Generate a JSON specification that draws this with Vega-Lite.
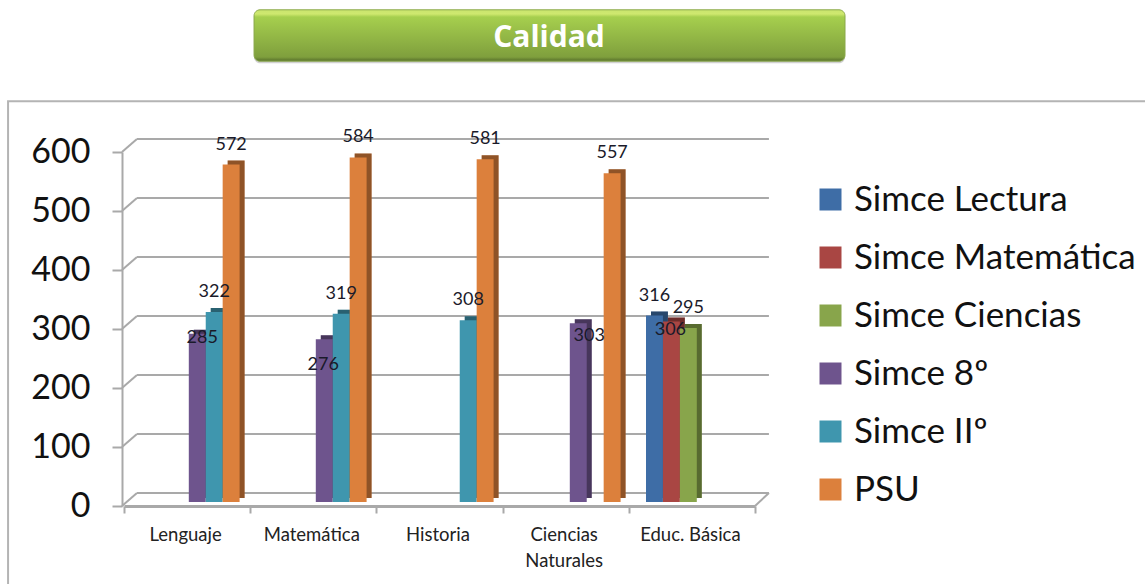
{"$schema":"https://vega.github.io/schema/vega-lite/v6.json","width":633,"height":354,"autosize":"none","padding":{"left":122,"top":152,"right":390,"bottom":78},"background":"white","config":{"view":{"stroke":null},"font":"Lato"},"datasets":{"scores":[
{"area":"Lenguaje","serie":"Simce 8º","puntaje":285},{"area":"Lenguaje","serie":"Simce IIº","puntaje":322},{"area":"Lenguaje","serie":"PSU","puntaje":572},
{"area":"Matemática","serie":"Simce 8º","puntaje":276},{"area":"Matemática","serie":"Simce IIº","puntaje":319},{"area":"Matemática","serie":"PSU","puntaje":584},
{"area":"Historia","serie":"Simce IIº","puntaje":308},{"area":"Historia","serie":"PSU","puntaje":581},
{"area":"Ciencias Naturales","serie":"Simce 8º","puntaje":303},{"area":"Ciencias Naturales","serie":"PSU","puntaje":557},
{"area":"Educ. Básica","serie":"Simce  Lectura","puntaje":316},{"area":"Educ. Básica","serie":"Simce Matemática","puntaje":306},{"area":"Educ. Básica","serie":"Simce Ciencias","puntaje":295}],
"levels":[{"level":0},{"level":100},{"level":200},{"level":300},{"level":400},{"level":500},{"level":600}],
"areas":[{"area":"Lenguaje"},{"area":"Matemática"},{"area":"Historia"},{"area":"Ciencias Naturales"},{"area":"Educ. Básica"}],
"banner":[{"titulo":"Calidad"}]},
"resolve":{"scale":{"x":"independent"}},
"layer":[
{"data":{"name":"levels"},"mark":{"type":"rule","color":"#a9a9a9","strokeWidth":2,"yOffset":-13},"encoding":{"x":{"datum":0.118,"type":"quantitative","scale":{"domain":[0,5]},"axis":null},"x2":{"datum":5.11},"y":{"field":"level","type":"quantitative","scale":{"domain":[0,600],"nice":false},"title":null,"axis":{"values":[0,100,200,300,400,500,600],"grid":false,"title":null,"tickSize":10,"tickColor":"#a9a9a9","tickWidth":2,"domainColor":"#a9a9a9","domainWidth":2,"labelFontSize":34,"labelColor":"#111111","labelPadding":22,"labelFont":"Lato"}}}},
{"data":{"name":"banner"},"mark":{"type":"rect","fill":"transparent","stroke":"#b4b4b4","strokeWidth":2},"encoding":{"x":{"datum":-0.9,"type":"quantitative","scale":{"domain":[0,5]},"axis":null},"x2":{"datum":8.12},"y":{"datum":686,"type":"quantitative"},"y2":{"datum":-142}}},
{"data":{"name":"banner"},"mark":{"type":"rect","fill":"#999999","opacity":0.45,"cornerRadius":6,"yOffset":2,"y2Offset":2},"encoding":{"x":{"datum":1.043,"type":"quantitative","scale":{"domain":[0,5]},"axis":null},"x2":{"datum":5.711},"y":{"datum":841,"type":"quantitative"},"y2":{"datum":754}}},
{"data":{"name":"banner"},"mark":{"type":"rect","cornerRadius":6,"stroke":"#8aa84a","strokeWidth":1,"fill":{"gradient":"linear","x1":0,"y1":0,"x2":0,"y2":1,"stops":[{"offset":0,"color":"#c9e56e"},{"offset":0.08,"color":"#cfe86f"},{"offset":0.14,"color":"#a6cf4e"},{"offset":0.92,"color":"#7f9f3d"},{"offset":1,"color":"#566f2a"}]}},"encoding":{"x":{"datum":1.043,"type":"quantitative","scale":{"domain":[0,5]},"axis":null},"x2":{"datum":5.711},"y":{"datum":841,"type":"quantitative"},"y2":{"datum":754}}},
{"data":{"name":"banner"},"mark":{"type":"text","font":"Open Sans","fontWeight":"bold","fontSize":30,"color":"white","align":"center","baseline":"middle"},"encoding":{"text":{"field":"titulo"},"x":{"datum":3.373,"type":"quantitative","scale":{"domain":[0,5]},"axis":null},"y":{"datum":793,"type":"quantitative"}}},
{"data":{"name":"levels"},"mark":{"type":"rule","color":"#a9a9a9","strokeWidth":2,"y2Offset":-13},"encoding":{"x":{"datum":0,"type":"quantitative","scale":{"domain":[0,5]},"axis":null},"x2":{"datum":0.118},"y":{"field":"level","type":"quantitative"},"y2":{"field":"level"}}},
{"data":{"name":"banner"},"mark":{"type":"rule","color":"#a9a9a9","strokeWidth":2,"y2Offset":-13},"encoding":{"x":{"datum":5,"type":"quantitative","scale":{"domain":[0,5]},"axis":null},"x2":{"datum":5.11},"y":{"datum":0,"type":"quantitative"},"y2":{"datum":0}}},
{"data":{"name":"areas"},"mark":{"type":"rule","opacity":0},"encoding":{"x":{"field":"area","type":"nominal","sort":null,"scale":{"range":[2,633],"paddingInner":0,"paddingOuter":0},"axis":{"title":null,"labelAngle":0,"tickBand":"extent","tickSize":7,"tickColor":"#a9a9a9","tickWidth":2,"domainColor":"#a9a9a9","domainWidth":3,"labelFontSize":18.5,"labelColor":"#222222","labelPadding":12,"labelOffset":-2,"labelFont":"Lato","labelLineHeight":26,"labelExpr":"datum.label == 'Ciencias Naturales' ? ['Ciencias','Naturales'] : datum.label"}}}},
{"data":{"name":"scores"},"mark":{"type":"bar","yOffset":-8,"y2Offset":-8},"encoding":{"x":{"field":"area","type":"nominal","sort":["Lenguaje","Matemática","Historia","Ciencias Naturales","Educ. Básica"],"scale":{"range":[8.3,643.3],"paddingInner":0.2,"paddingOuter":0.1},"axis":null},"xOffset":{"field":"serie","type":"nominal","scale":{"domain":["Simce  Lectura","Simce Matemática","Simce Ciencias","Simce 8º","Simce IIº","PSU"],"paddingInner":0,"paddingOuter":0}},"y":{"field":"puntaje","type":"quantitative"},"color":{"field":"serie","type":"nominal","scale":{"domain":["Simce  Lectura","Simce Matemática","Simce Ciencias","Simce 8º","Simce IIº","PSU"],"range":["#3e6da6","#a94643","#88a54b","#6e548d","#3f96ae","#dc803c"]},"legend":{"orient":"none","legendX":691,"legendY":30,"title":null,"symbolType":"square","symbolSize":484,"symbolStrokeWidth":0,"labelFontSize":35,"labelFont":"Lato","labelColor":"#111111","labelOffset":6,"rowPadding":22,"padding":0,"labelLimit":320}}}},
{"data":{"name":"scores"},"mark":{"type":"bar","yOffset":-8,"y2Offset":-8,"color":"black","opacity":0.35},"encoding":{"x":{"field":"area","type":"nominal","sort":["Lenguaje","Matemática","Historia","Ciencias Naturales","Educ. Básica"],"scale":{"range":[8.3,643.3],"paddingInner":0.2,"paddingOuter":0.1},"axis":null},"xOffset":{"field":"serie","type":"nominal","scale":{"domain":["Simce  Lectura","Simce Matemática","Simce Ciencias","Simce 8º","Simce IIº","PSU"],"paddingInner":0,"paddingOuter":0}},"y":{"field":"puntaje","type":"quantitative"}}},
{"data":{"name":"scores"},"mark":{"type":"bar","yOffset":-4,"y2Offset":-4},"encoding":{"x":{"field":"area","type":"nominal","sort":["Lenguaje","Matemática","Historia","Ciencias Naturales","Educ. Básica"],"scale":{"range":[3.3,638.3],"paddingInner":0.2,"paddingOuter":0.1},"axis":null},"xOffset":{"field":"serie","type":"nominal","scale":{"domain":["Simce  Lectura","Simce Matemática","Simce Ciencias","Simce 8º","Simce IIº","PSU"],"paddingInner":0,"paddingOuter":0}},"y":{"field":"puntaje","type":"quantitative"},"color":{"field":"serie","type":"nominal","scale":{"domain":["Simce  Lectura","Simce Matemática","Simce Ciencias","Simce 8º","Simce IIº","PSU"],"range":["#3e6da6","#a94643","#88a54b","#6e548d","#3f96ae","#dc803c"]},"legend":{"orient":"none","legendX":691,"legendY":30,"title":null,"symbolType":"square","symbolSize":484,"symbolStrokeWidth":0,"labelFontSize":35,"labelFont":"Lato","labelColor":"#111111","labelOffset":6,"rowPadding":22,"padding":0,"labelLimit":320}}}},
{"data":{"name":"scores"},
 "encoding":{"x":{"field":"area","type":"nominal","sort":["Lenguaje","Matemática","Historia","Ciencias Naturales","Educ. Básica"],"scale":{"range":[3.3,638.3],"paddingInner":0.2,"paddingOuter":0.1},"axis":null},
 "xOffset":{"field":"serie","type":"nominal","scale":{"domain":["Simce  Lectura","Simce Matemática","Simce Ciencias","Simce 8º","Simce IIº","PSU"],"paddingInner":0,"paddingOuter":0}},
 "y":{"field":"puntaje","type":"quantitative"},"text":{"field":"puntaje"}},
 "layer":[
 {"transform":[{"filter":"datum.puntaje!=285 && datum.puntaje!=276 && datum.puntaje!=303 && datum.puntaje!=306"}],"mark":{"type":"text","fontSize":18,"color":"#1a1a2a","font":"Lato","dy":-24}},
 {"transform":[{"filter":"datum.puntaje==285"}],"mark":{"type":"text","fontSize":18,"color":"#1a1a2a","font":"Lato","dy":0,"dx":5}},
 {"transform":[{"filter":"datum.puntaje==276"}],"mark":{"type":"text","fontSize":18,"color":"#1a1a2a","font":"Lato","dy":22,"dx":-1}},
 {"transform":[{"filter":"datum.puntaje==303"}],"mark":{"type":"text","fontSize":18,"color":"#1a1a2a","font":"Lato","dy":9,"dx":11}},
 {"transform":[{"filter":"datum.puntaje==306"}],"mark":{"type":"text","fontSize":18,"color":"#1a1a2a","font":"Lato","dy":5,"dx":-1}}
 ]}
]}
